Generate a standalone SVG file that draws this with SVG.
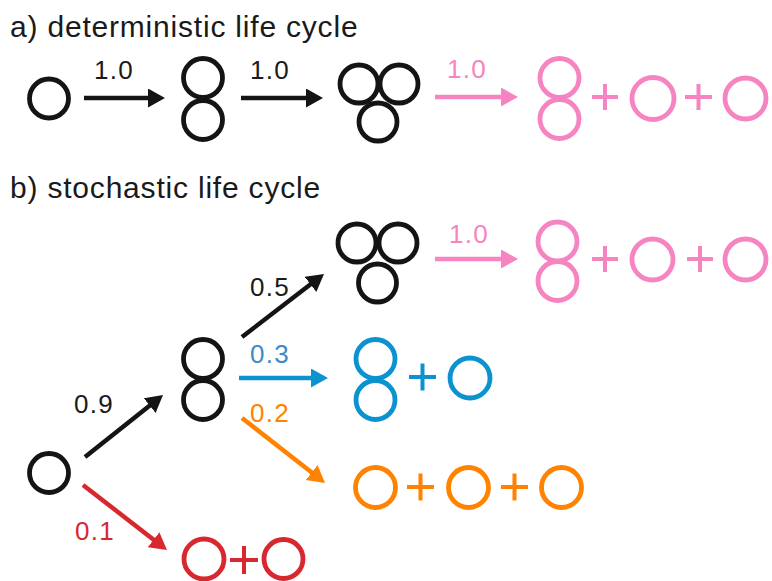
<svg xmlns="http://www.w3.org/2000/svg" width="772" height="581" viewBox="0 0 772 581">
<style>
.c{fill:none;stroke-width:4.8}
.k{stroke:#141414}.p{stroke:#f584c1}.b{stroke:#0b92cf}.o{stroke:#ff8200}.r{stroke:#d7272f}
.t{font-family:"Liberation Sans",Arial,sans-serif;font-size:30px;letter-spacing:0.8px;fill:#1a1a1a}
.l{font-family:"Liberation Sans",Arial,sans-serif;font-size:26px;letter-spacing:1.3px}
.plus{stroke-width:4;fill:none}
.ln{fill:none;stroke-width:4.5}
</style>
<defs>
<marker id="mk" markerUnits="userSpaceOnUse" markerWidth="18" markerHeight="20" refX="5" refY="9.5" orient="auto" viewBox="0 0 18 20"><path d="M0,0 L17,9.5 L0,19 z" fill="#141414"/></marker>
<marker id="mp" markerUnits="userSpaceOnUse" markerWidth="18" markerHeight="20" refX="5" refY="9.5" orient="auto" viewBox="0 0 18 20"><path d="M0,0 L17,9.5 L0,19 z" fill="#f584c1"/></marker>
<marker id="mb" markerUnits="userSpaceOnUse" markerWidth="18" markerHeight="20" refX="5" refY="9.5" orient="auto" viewBox="0 0 18 20"><path d="M0,0 L17,9.5 L0,19 z" fill="#0b92cf"/></marker>
<marker id="mo" markerUnits="userSpaceOnUse" markerWidth="18" markerHeight="20" refX="5" refY="9.5" orient="auto" viewBox="0 0 18 20"><path d="M0,0 L17,9.5 L0,19 z" fill="#ff8200"/></marker>
<marker id="mr" markerUnits="userSpaceOnUse" markerWidth="18" markerHeight="20" refX="5" refY="9.5" orient="auto" viewBox="0 0 18 20"><path d="M0,0 L17,9.5 L0,19 z" fill="#d7272f"/></marker>
</defs>
<rect width="772" height="581" fill="#fff"/>
<text class="t" x="10" y="37">a) deterministic life cycle</text>
<text class="t" x="10" y="198">b) stochastic life cycle</text>

<g id="a-single"><circle class="c k" cx="49" cy="98.5" r="19.5"/></g>
<g id="a-double"><circle class="c k" cx="203" cy="78" r="19.5"/><circle class="c k" cx="203" cy="120" r="19.5"/></g>
<g id="a-triple"><circle class="c k" cx="359" cy="84" r="19"/><circle class="c k" cx="399" cy="84" r="19"/><circle class="c k" cx="378" cy="122" r="19"/></g>
<g id="a-result">
<circle class="c p" cx="559.5" cy="78" r="19.5"/><circle class="c p" cx="559.5" cy="119" r="19.5"/>
<path class="plus p" d="M592,97 H618 M605,84 V110"/>
<circle class="c p" cx="653" cy="98.5" r="21"/>
<path class="plus p" d="M685,97 H712 M698.5,84 V110"/>
<circle class="c p" cx="745.5" cy="98.5" r="20.5"/>
</g>

<g id="b-single"><circle class="c k" cx="49" cy="473" r="19.5"/></g>
<g id="b-double"><circle class="c k" cx="203" cy="359" r="19.5"/><circle class="c k" cx="203" cy="400" r="19.5"/></g>
<g id="b-triple"><circle class="c k" cx="357" cy="243" r="19"/><circle class="c k" cx="398" cy="243" r="19"/><circle class="c k" cx="377.5" cy="283" r="19"/></g>
<g id="b-pink">
<circle class="c p" cx="557.5" cy="241.5" r="19.5"/><circle class="c p" cx="557.5" cy="281" r="19.5"/>
<path class="plus p" d="M592,259 H618 M605,246 V272"/>
<circle class="c p" cx="652.5" cy="259.5" r="20.5"/>
<path class="plus p" d="M687,259 H713 M700,246 V272"/>
<circle class="c p" cx="745.5" cy="259.5" r="20.5"/>
</g>
<g id="b-blue">
<circle class="c b" cx="375.5" cy="359" r="19.5"/><circle class="c b" cx="375.5" cy="400" r="19.5"/>
<path class="plus b" d="M409,377 H436 M422.5,363.5 V390.5"/>
<circle class="c b" cx="470" cy="378" r="20"/>
</g>
<g id="b-orange">
<circle class="c o" cx="375.5" cy="487.5" r="20"/>
<path class="plus o" d="M407,487 H434 M420.5,473.5 V500.5"/>
<circle class="c o" cx="468.5" cy="487.5" r="20"/>
<path class="plus o" d="M501,487 H528 M514.5,473.5 V500.5"/>
<circle class="c o" cx="561.5" cy="487.5" r="20"/>
</g>
<g id="b-red">
<circle class="c r" cx="204" cy="559" r="20"/>
<path class="plus r" d="M230,560 H258 M244,546 V574"/>
<circle class="c r" cx="283.5" cy="559" r="19.5"/>
</g>

<g id="connectors">
<path class="ln k" d="M84,98 H153" marker-end="url(#mk)"/>
<path class="ln k" d="M241,98 H311" marker-end="url(#mk)"/>
<path class="ln p" d="M435,97 H506" marker-end="url(#mp)"/>
<path class="ln p" d="M435,259 H506" marker-end="url(#mp)"/>
<path class="ln b" d="M239,378 H316" marker-end="url(#mb)"/>
<path class="ln k" d="M242,337 L314.5,281.3" marker-end="url(#mk)"/>
<path class="ln k" d="M85,457 L153.6,402.5" marker-end="url(#mk)"/>
<path class="ln o" d="M242,418 L315.6,475.6" marker-end="url(#mo)"/>
<path class="ln r" d="M83,485 L157.5,542.7" marker-end="url(#mr)"/>
</g>

<g id="labels">
<text class="l" x="94" y="79" fill="#1a1a1a">1.0</text>
<text class="l" x="250" y="79" fill="#1a1a1a">1.0</text>
<text class="l" x="447" y="78" fill="#f584c1">1.0</text>
<text class="l" x="449" y="243" fill="#f584c1">1.0</text>
<text class="l" x="250" y="296" fill="#1a1a1a">0.5</text>
<text class="l" x="250" y="363" fill="#3b8bc9">0.3</text>
<text class="l" x="250" y="422" fill="#ff8200">0.2</text>
<text class="l" x="74" y="413" fill="#1a1a1a">0.9</text>
<text class="l" x="75" y="540" fill="#d7272f">0.1</text>
</g>
</svg>
